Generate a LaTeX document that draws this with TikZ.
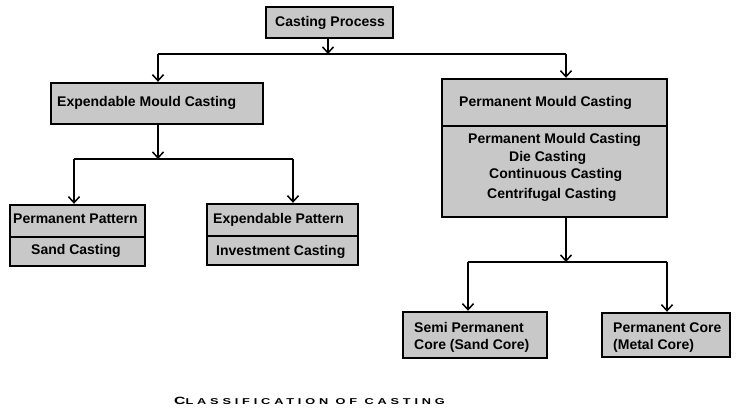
\documentclass[tikz,border=0pt]{standalone}
\usepackage{fontspec}
\setmainfont{Liberation Sans}
\newfontfamily\capfont[LetterSpace=30]{Liberation Sans}
\usetikzlibrary{arrows.meta}
\definecolor{boxgray}{RGB}{200,200,200}
\begin{document}
\begin{tikzpicture}[x=1pt,y=-1pt,
  box/.style={draw=black,line width=2.4pt,fill=boxgray,inner sep=0pt},
  lbl/.style={anchor=base west,inner sep=0pt,font=\bfseries\fontsize{14}{16}\selectfont},
  divider/.style={line width=1.5pt},
  wire/.style={line width=1.5pt},
  conn/.style={line width=1.5pt,-{Straight Barb[length=6pt,width=11pt,line width=1.5pt]}}]
\fill[white] (0,0) rectangle (736,414);
\useasboundingbox (0,0) rectangle (736,414);

% boxes
\node[box,minimum width=127pt,minimum height=31pt] (cp) at (329.5,22.5) {};
\node[box,minimum width=212pt,minimum height=41pt] (emc) at (157,103.5) {};
\node[box,minimum width=225pt,minimum height=138pt] (pmc) at (554.5,148) {};
\node[box,minimum width=135pt,minimum height=61pt] (pp) at (77.5,235.5) {};
\node[box,minimum width=151pt,minimum height=61pt] (ep) at (282.5,234.5) {};
\node[box,minimum width=144pt,minimum height=46pt] (spc) at (475,335) {};
\node[box,minimum width=128pt,minimum height=44pt] (pc) at (666,335) {};

% dividers
\coordinate (d1) at (0,126);
\coordinate (d2) at (0,237);
\coordinate (d3) at (0,236);
\draw[divider] (pmc.west |- d1) -- (pmc.east |- d1);
\draw[divider] (pp.west |- d2) -- (pp.east |- d2);
\draw[divider] (ep.west |- d3) -- (ep.east |- d3);

% labels
\node[lbl] (tcp) at (275,27) {Casting Process};
\node[lbl] (temc) at (57,107) {Expendable Mould Casting};
\node[lbl] (tpmc) at (459,107) {Permanent Mould Casting};
\node[lbl] (tl1) at (468,144) {Permanent Mould Casting};
\node[lbl] (tl2) at (509,162) {Die Casting};
\node[lbl] (tl3) at (489,179) {Continuous Casting};
\node[lbl] (tl4) at (487,199) {Centrifugal Casting};
\node[lbl] (tpp) at (13,223) {Permanent Pattern};
\node[lbl] (tsc) at (31,254) {Sand Casting};
\node[lbl] (tep) at (213,223) {Expendable Pattern};
\node[lbl] (tic) at (216,255) {Investment Casting};
\node[lbl] (ts1) at (414,332) {Semi Permanent};
\node[lbl] (ts2) at (414,349) {Core (Sand Core)};
\node[lbl] (tc1) at (613,332) {Permanent Core};
\node[lbl] (tc2) at (613,349) {(Metal Core)};

% connectors
\coordinate (j1) at (328,54);
\coordinate (j1l) at (158,54);
\coordinate (j1r) at (566,54);
\draw[conn] (j1 |- cp.south) -- (j1);
\draw[wire] (j1l) -- (j1r);
\draw[conn] (j1l) -- (j1l |- emc.north);
\draw[conn] (j1r) -- (j1r |- pmc.north);

\coordinate (j2) at (158,159);
\coordinate (j2l) at (74,159);
\coordinate (j2r) at (293,159);
\draw[conn] (j2 |- emc.south) -- (j2);
\draw[wire] (j2l) -- (j2r);
\draw[conn] (j2l) -- (j2l |- pp.north);
\draw[conn] (j2r) -- (j2r |- ep.north);

\coordinate (j3) at (566,262);
\coordinate (j3l) at (468,262);
\coordinate (j3r) at (667,262);
\draw[conn] (j3 |- pmc.south) -- (j3);
\draw[wire] (j3l) -- (j3r);
\draw[conn] (j3l) -- (j3l |- spc.north);
\draw[conn] (j3r) -- (j3r |- pc.north);

% caption
\node[anchor=base west,inner sep=0pt] (cap) at (174,404)
  {\scalebox{1.5}[1]{\capfont\bfseries\fontsize{10.5}{10.5}\selectfont C\fontsize{8.5}{8.5}\selectfont LASSIFICATION OF CASTING}};
\end{tikzpicture}
\end{document}
